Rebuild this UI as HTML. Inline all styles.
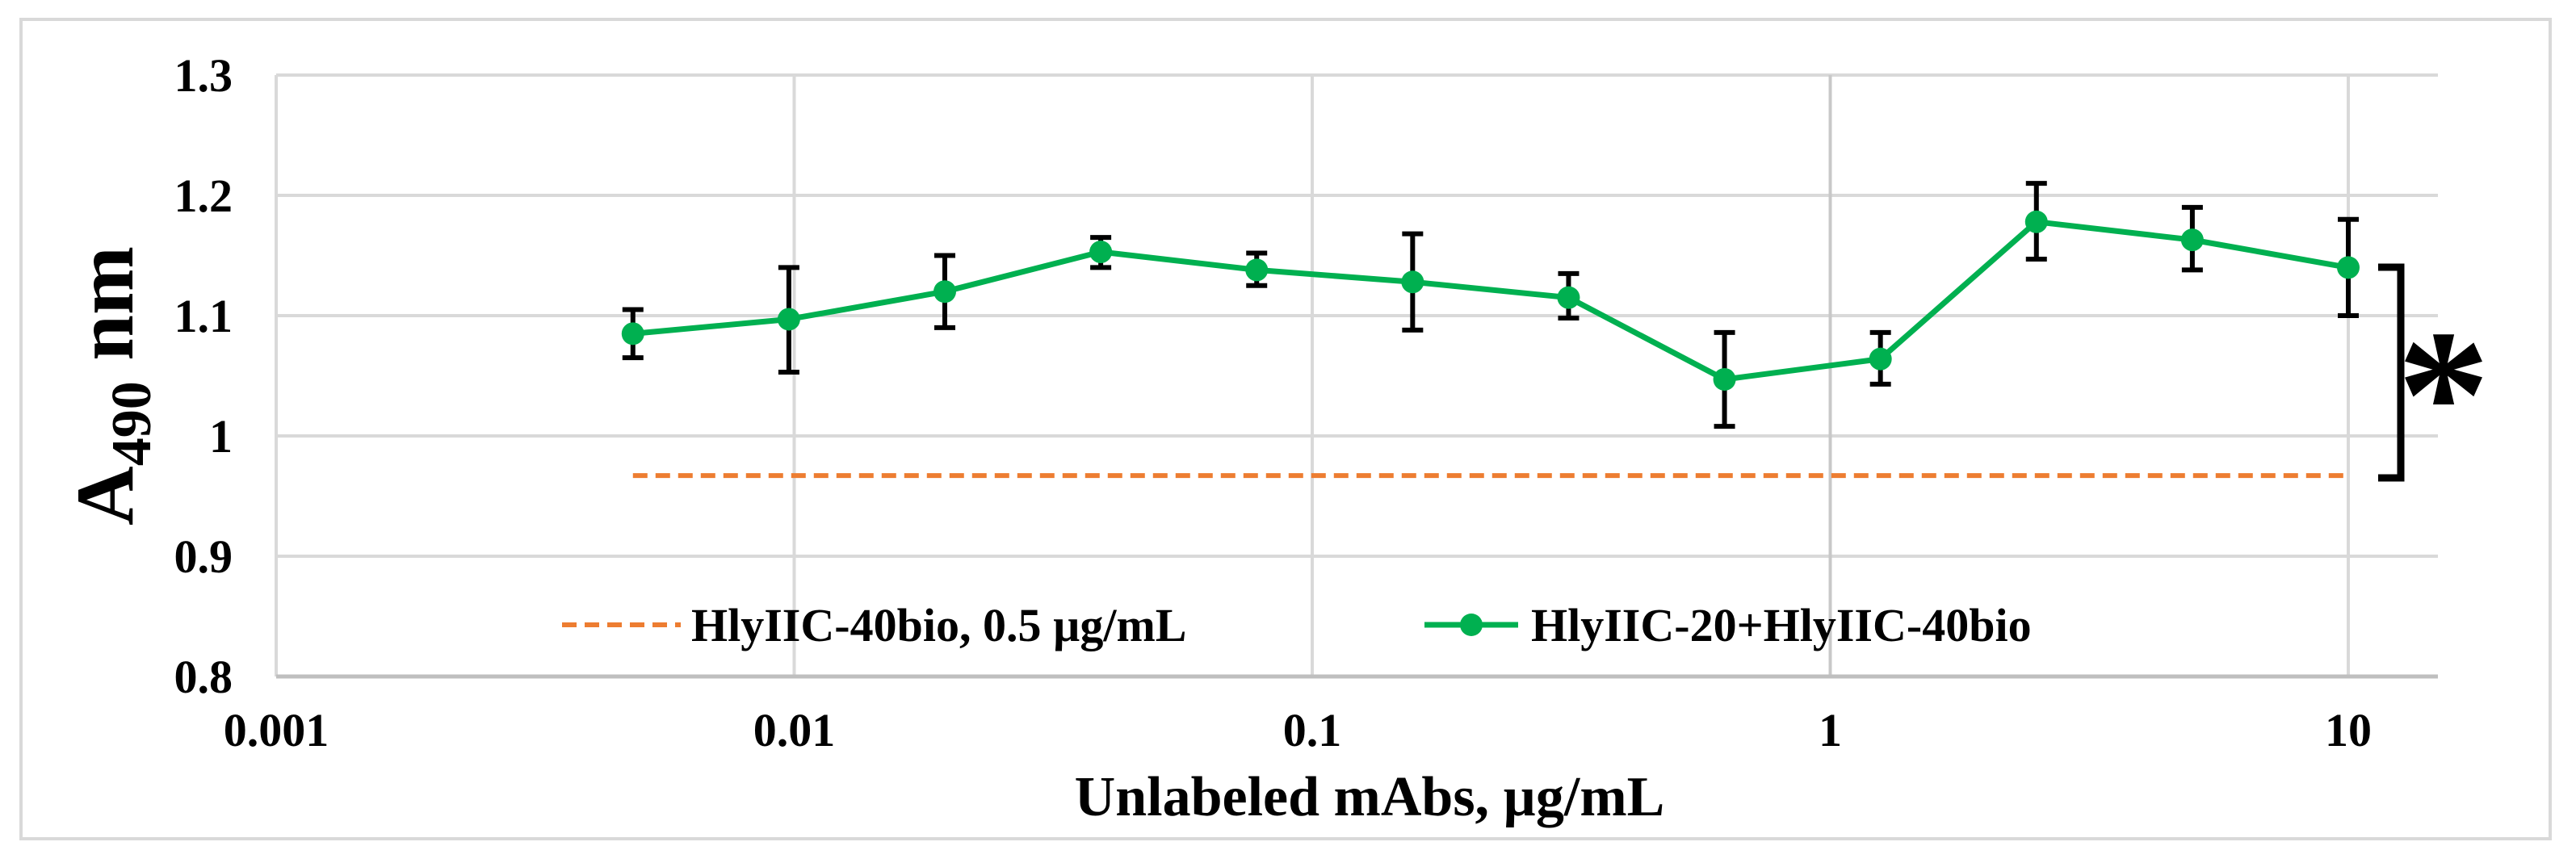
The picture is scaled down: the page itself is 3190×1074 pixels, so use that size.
<!DOCTYPE html>
<html><head><meta charset="utf-8"><style>
html,body{margin:0;padding:0;background:#fff;}
svg{display:block;}
text{font-family:"Liberation Serif",serif;font-weight:bold;fill:#000;}
</style></head><body>
<svg id="chart" width="3190" height="1074" viewBox="0 0 3190 1074" xmlns="http://www.w3.org/2000/svg">
<rect x="26" y="24" width="3132" height="1015" fill="#fff" stroke="#d9d9d9" stroke-width="4"/>
<g id="grid"></g>
<g id="axes"></g>
<g id="series"></g>
<text transform="translate(164,478) rotate(-90)" text-anchor="middle" font-size="102">A<tspan font-size="70" dy="22">490</tspan><tspan dy="-22"> nm</tspan></text>
<text x="1696" y="1010" text-anchor="middle" font-size="70">Unlabeled mAbs, µg/mL</text>
<g>
<line x1="696" y1="774" x2="843" y2="774" stroke="#ed7d31" stroke-width="6" stroke-dasharray="18,10"/>
<text x="856" y="794" font-size="58">HlyIIC-40bio, 0.5 µg/mL</text>
<line x1="1764" y1="774" x2="1880" y2="774" stroke="#00b050" stroke-width="7"/>
<circle cx="1822" cy="774" r="14" fill="#00b050"/>
<text x="1896" y="794" font-size="58">HlyIIC-20+HlyIIC-40bio</text>
</g>
<path d="M2945,331 H2973 V592 H2945" fill="none" stroke="#000" stroke-width="9"/>
<text x="3026" y="566" text-anchor="middle" font-size="230">*</text>
</svg>
<script>
const xValues = [0.0048828, 0.0097656, 0.0195313, 0.0390625, 0.078125, 0.15625, 0.3125, 0.625, 1.25, 2.5, 5, 10];
const yValues = [1.085, 1.097, 1.12, 1.153, 1.138, 1.128, 1.115, 1.047, 1.064, 1.178, 1.163, 1.14];
const yErrLow = [1.065, 1.053, 1.09, 1.14, 1.125, 1.088, 1.098, 1.008, 1.043, 1.147, 1.138, 1.1];
const yErrHigh = [1.105, 1.14, 1.15, 1.165, 1.152, 1.168, 1.135, 1.086, 1.086, 1.21, 1.19, 1.18];
const controlValue = 0.967;
const yTicks = [0.8, 0.9, 1.0, 1.1, 1.2, 1.3];
const yTickLabels = ["0.8", "0.9", "1", "1.1", "1.2", "1.3"];
const xTicks = [0.001, 0.01, 0.1, 1, 10];
const xTickLabels = ["0.001", "0.01", "0.1", "1", "10"];

const NS = "http://www.w3.org/2000/svg";
const L = 342, R = 3019, T = 93, B = 838;
const X = v => L + (Math.log10(v) - Math.log10(0.001)) * 641.5;
const Y = v => B - (v - 0.8) / 0.5 * (B - T);
function mk(tag, attrs, parent) {
  const e = document.createElementNS(NS, tag);
  for (const k in attrs) e.setAttribute(k, attrs[k]);
  parent.appendChild(e);
  return e;
}
const grid = document.getElementById('grid');
const axes = document.getElementById('axes');
const series = document.getElementById('series');
yTicks.forEach((t, i) => {
  if (i > 0) {
    const g = mk('line', {x1: L, x2: R, y1: Y(t), y2: Y(t), stroke: '#d9d9d9', 'stroke-width': 4}, grid);
    
    
  }
  const tx = mk('text', {x: 288, y: Y(t) + 20, 'text-anchor': 'end', 'font-size': 58}, axes);
  tx.textContent = yTickLabels[i];
  
  
});
xTicks.forEach((t, i) => {
  const g = mk('line', {x1: X(t), x2: X(t), y1: T, y2: B, stroke: i === 3 ? '#c8c8c8' : '#d9d9d9', 'stroke-width': 4}, grid);
  
  
  const tx = mk('text', {x: X(t), y: 924, 'text-anchor': 'middle', 'font-size': 58}, axes);
  tx.textContent = xTickLabels[i];
  
  
});
const xa = mk('line', {x1: L, x2: R, y1: B, y2: B, stroke: '#bfbfbf', 'stroke-width': 5}, axes);



const ctrl = mk('line', {x1: X(xValues[0]), x2: X(xValues[xValues.length - 1]), y1: Y(controlValue), y2: Y(controlValue), stroke: '#ed7d31', 'stroke-width': 6, 'stroke-dasharray': '18,10'}, series);



const pts = xValues.map((x, i) => X(x) + ',' + Y(yValues[i])).join(' ');
const pl = mk('polyline', {points: pts, fill: 'none', stroke: '#00b050', 'stroke-width': 7, 'stroke-linejoin': 'round'}, series);



xValues.forEach((x, i) => {
  const cx = X(x);
  const eb = mk('path', {d: `M${cx},${Y(yErrLow[i])} V${Y(yErrHigh[i])} M${cx-13},${Y(yErrLow[i])} H${cx+13} M${cx-13},${Y(yErrHigh[i])} H${cx+13}`, stroke: '#000', 'stroke-width': 6, fill: 'none'}, series);
  
  
});
xValues.forEach((x, i) => {
  const c = mk('circle', {cx: X(x), cy: Y(yValues[i]), r: 14, fill: '#00b050'}, series);
  
  
});
</script>
</body></html>
